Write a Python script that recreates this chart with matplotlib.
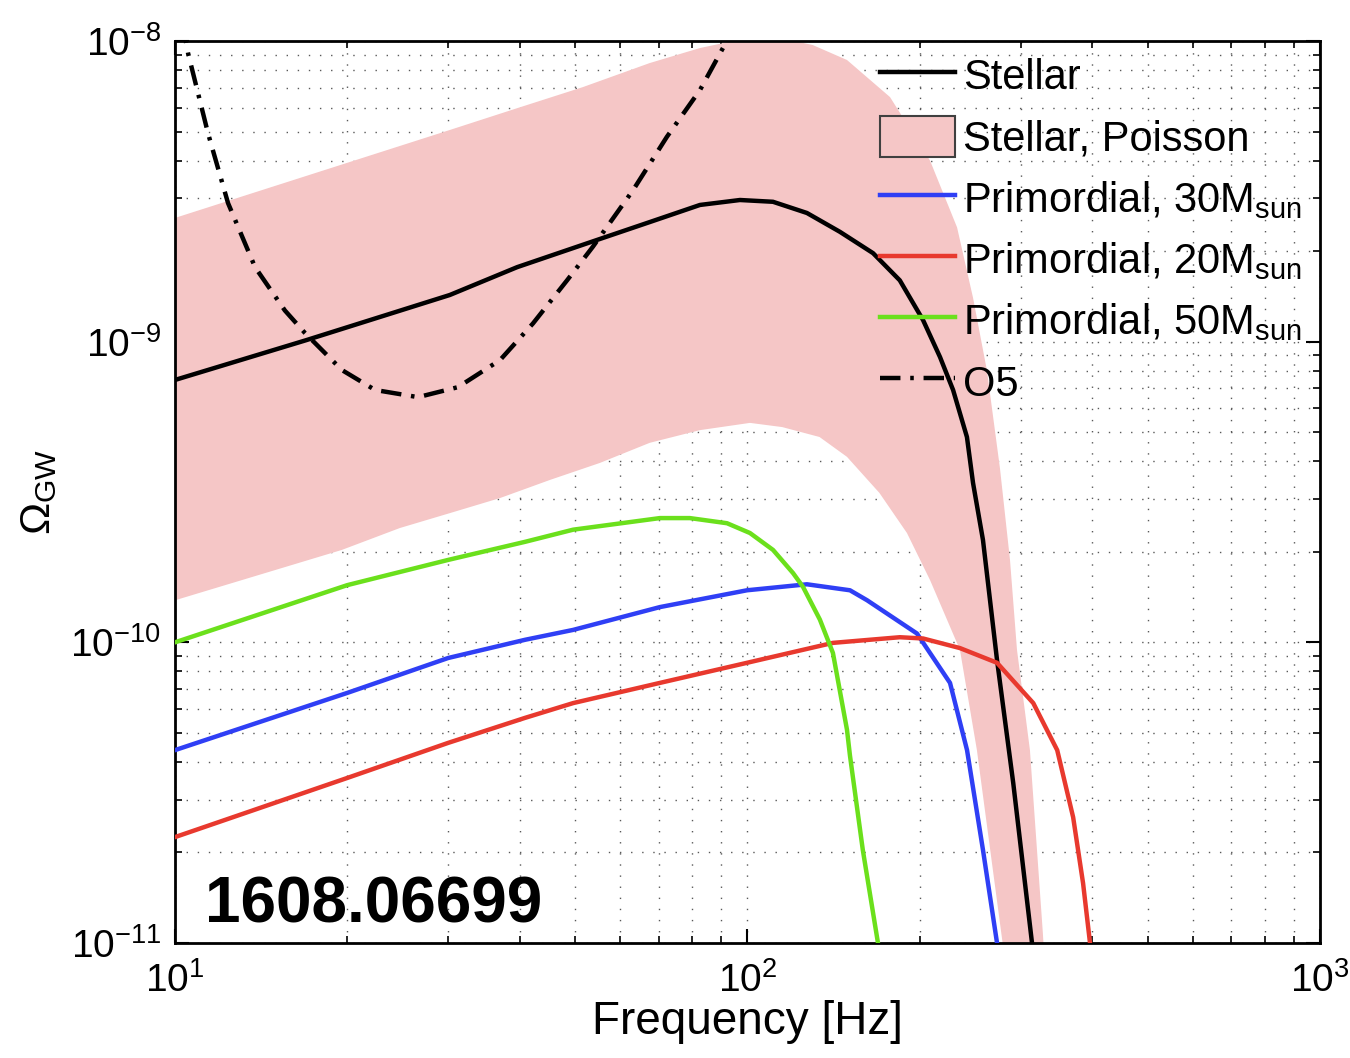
import matplotlib
matplotlib.use('Agg')
import matplotlib.pyplot as plt
from matplotlib.patches import Patch
from matplotlib.lines import Line2D

plt.rcParams['font.family'] = ['Liberation Sans', 'DejaVu Sans']
plt.rcParams['mathtext.fontset'] = 'custom'
plt.rcParams['mathtext.rm'] = 'Liberation Sans'
plt.rcParams['mathtext.it'] = 'Liberation Sans:italic'

## Stellar background (black)
f_stellar = [10, 16.9, 30.2, 39.6, 54.6, 67.5, 82.6, 97, 110.8, 127, 145, 165.7, 184.5, 202.6,
             216.9, 228.6, 241.7, 247.7, 257.8, 272.8, 291.2, 314]
om_stellar = [7.46e-10, 1.01e-9, 1.43e-9, 1.77e-9, 2.18e-9, 2.5e-9, 2.85e-9, 2.96e-9, 2.92e-9,
              2.68e-9, 2.32e-9, 1.97e-9, 1.6e-9, 1.18e-9, 8.89e-10, 6.91e-10, 4.82e-10, 3.39e-10,
              2.19e-10, 8.73e-11, 3.4e-11, 1e-11]

## Poisson band, upper and lower edges
f_upper = [10, 30.2, 39.6, 51.6, 67.5, 82.6, 94.3, 101, 115, 130, 149.2, 177.4, 208.4, 232.3,
           247.7, 262, 276, 287.4, 295.6, 311.4, 328, 336]
om_upper = [2.58e-9, 5.06e-9, 5.98e-9, 7.03e-9, 8.45e-9, 9.48e-9, 1.0e-8, 1.02e-8, 1.02e-8,
            9.7e-9, 8.65e-9, 6.51e-9, 4.0e-9, 2.4e-9, 1.4e-9, 8.0e-10, 3.8e-10, 1.88e-10,
            9.44e-11, 4.38e-11, 1.08e-11, 5e-12]
f_lower = [10, 19.57, 24.7, 30.2, 36.97, 45.2, 55.2, 67.5, 82.6, 101, 115, 133.6, 149.2, 170,
           189.9, 208.4, 235, 251.6, 279, 283]
om_lower = [1.38e-10, 2.03e-10, 2.4e-10, 2.69e-10, 3.02e-10, 3.47e-10, 3.95e-10, 4.61e-10,
            5.08e-10, 5.37e-10, 5.2e-10, 4.82e-10, 4.14e-10, 3.14e-10, 2.31e-10, 1.61e-10,
            9.44e-11, 4.38e-11, 1e-11, 5e-12]

## Primordial, 30 Msun (blue)
f_p30 = [10, 20, 30, 40.9, 49.6, 70.3, 99.8, 127, 151, 161.8, 197.7, 225.8, 241.8, 257.8, 272.8]
om_p30 = [4.38e-11, 6.79e-11, 8.87e-11, 1.02e-10, 1.10e-10, 1.31e-10, 1.49e-10, 1.56e-10,
          1.49e-10, 1.38e-10, 1.07e-10, 7.33e-11, 4.38e-11, 2.04e-11, 1e-11]

## Primordial, 20 Msun (red)
f_p20 = [10, 20, 30, 40.9, 49.6, 70.3, 99.8, 141, 184.5, 202.6, 235, 272.8, 315.6, 347.5,
         370.5, 385.6, 396.5]
om_p20 = [2.25e-11, 3.54e-11, 4.63e-11, 5.61e-11, 6.28e-11, 7.33e-11, 8.55e-11, 9.96e-11,
          1.04e-10, 1.03e-10, 9.57e-11, 8.55e-11, 6.28e-11, 4.38e-11, 2.62e-11, 1.58e-11, 1e-11]

## Primordial, 50 Msun (green)
f_p50 = [10, 20, 30, 40.9, 49.6, 70.3, 79.3, 92.1, 101, 110.8, 120.1, 125, 133.8, 141, 149.2,
         151, 159, 169]
om_p50 = [1.0e-10, 1.55e-10, 1.88e-10, 2.16e-10, 2.37e-10, 2.59e-10, 2.59e-10, 2.49e-10,
          2.31e-10, 2.03e-10, 1.7e-10, 1.53e-10, 1.19e-10, 9.22e-11, 5.12e-11, 4.2e-11,
          2.04e-11, 1e-11]

## O5 sensitivity (dash-dot)
f_o5 = [10.3, 10.54, 11.42, 12.38, 13.8, 15.56, 16.86, 19.57, 22.36, 26.58, 31.21, 36.97, 42.2,
        48.4, 53.7, 63.1, 72.3, 82.6, 90.6, 93.1]
om_o5 = [1.15e-8, 9.12e-9, 4.94e-9, 2.89e-9, 1.77e-9, 1.27e-9, 1.07e-9, 8.05e-10, 6.91e-10,
         6.54e-10, 7.06e-10, 8.69e-10, 1.15e-9, 1.6e-9, 2.07e-9, 3.19e-9, 4.8e-9, 6.87e-9,
         9.48e-9, 1.09e-8]

labels = ['Stellar', 'Stellar, Poisson', r'Primordial, 30M$_{\rm sun}$',
          r'Primordial, 20M$_{\rm sun}$', r'Primordial, 50M$_{\rm sun}$', 'O5']

pink = '#f5c6c6'
blue = '#2f3ff5'
red = '#e8392e'
green = '#6be01c'
lw = 3.2
dashdot = (0, (4.6, 2.2, 0.8, 2.2))

fig = plt.figure(figsize=(13.5, 10.58), dpi=100)
ax = fig.add_axes([0.1296, 0.1087, 0.8482, 0.8525])

ax.fill(f_upper + f_lower[::-1], om_upper + om_lower[::-1], color=pink, lw=0, zorder=1)
ax.plot(f_stellar, om_stellar, color='k', lw=lw, zorder=3)
ax.plot(f_p30, om_p30, color=blue, lw=lw, zorder=3)
ax.plot(f_p20, om_p20, color=red, lw=lw, zorder=3)
ax.plot(f_p50, om_p50, color=green, lw=lw, zorder=3)
ax.plot(f_o5, om_o5, color='k', lw=lw, ls=dashdot, zorder=3)

ax.set_xscale('log')
ax.set_yscale('log')
ax.set_xlim(10, 1000)
ax.set_ylim(1e-11, 1e-8)

ax.grid(True, which='both', ls=(0, (1, 7)), color='0.35', lw=1.0, zorder=0)
ax.set_axisbelow(True)
ax.tick_params(which='both', direction='in', top=True, right=True, labelsize=28)
ax.tick_params(axis='x', pad=14)
ax.tick_params(axis='y', pad=10)
ax.tick_params(which='major', length=10, width=1.5)
ax.tick_params(which='minor', length=5, width=1.2)
for s in ax.spines.values():
	s.set_linewidth(2.0)

ax.set_xlabel('Frequency [Hz]', fontsize=33, labelpad=0)
ax.set_ylabel(r'$\Omega_{\rm GW}$', fontsize=31, labelpad=8)

handles = [Line2D([], [], color='k', lw=lw),
           Patch(facecolor=pink, edgecolor='0.25', lw=1.5),
           Line2D([], [], color=blue, lw=lw),
           Line2D([], [], color=red, lw=lw),
           Line2D([], [], color=green, lw=lw),
           Line2D([], [], color='k', lw=lw, ls=dashdot)]
leg = ax.legend(handles, labels, loc='upper left', bbox_to_anchor=(0.6157, 0.985), fontsize=30,
                frameon=False, handlelength=1.8, handleheight=1.15, handletextpad=0.2,
                labelspacing=0.42, borderpad=0, borderaxespad=0)

ax.text(0.026, 0.008, '1608.06699', transform=ax.transAxes, fontsize=46, fontweight='bold',
        ha='left', va='bottom', zorder=5)

fig.savefig('out.png', dpi=100)
